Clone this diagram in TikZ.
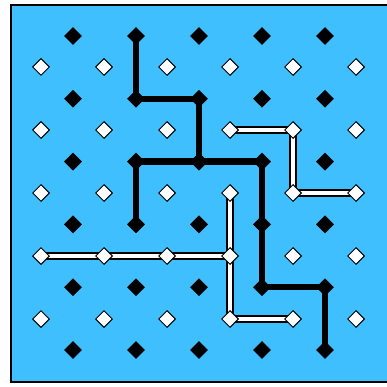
\documentclass[tikz,border=0pt]{standalone}
\usetikzlibrary{shapes.geometric}
\definecolor{sky}{RGB}{64,191,255}
\definecolor{ink}{RGB}{0,0,0}
\pgfdeclarelayer{board}
\pgfdeclarelayer{paths}
\pgfsetlayers{board,paths,main}
\tikzset{
  bdot/.style={diamond,fill=ink,inner sep=0pt,minimum size=18pt},
  wdot/.style={diamond,fill=white,draw=ink,line width=1pt,inner sep=0pt,minimum size=17pt},
  bpath/.style={draw=ink,line width=6.5pt,line join=miter},
  wpath/.style={draw=ink,line width=1.2pt,double=white,double distance=4.8pt},
}

\begin{document}
\begin{tikzpicture}[x=1pt,y=-1pt]
  \useasboundingbox (0,0) rectangle (386,387);
  \begin{pgfonlayer}{board}
    \fill[sky] (10,4) rectangle (390,382);
    \draw[ink,line width=2pt] (11,5) rectangle (390,382);
  \end{pgfonlayer}
  % black and white points
  \foreach \i in {1,...,5} \foreach \j in {1,...,6}
    \node[bdot] (b\i\j) at ({73+63*(\i-1)},{36+62.8*(\j-1)}) {};
  \foreach \i in {1,...,6} \foreach \j in {1,...,5}
    \node[wdot] (w\i\j) at ({41+63*(\i-1)},{67+63*(\j-1)}) {};
  \begin{pgfonlayer}{paths}
    % black walls
    \draw[bpath] (b21.center) -- (b22.center) -- (b32.center) -- (b33.center);
    \draw[bpath] (b24.center) -- (b23.center) -- (b43.center);
    \draw[bpath] (b43.center) -- (b44.center) -- (b45.center) -- (b55.center) -- (b56.center);
    % white walls
    \draw[wpath] (w42.center) -- (w52.center) -- (w53.center) -- (w63.center);
    \draw[wpath] (w14.center) -- (w44.center);
    \draw[wpath] (w43.center) -- (w45.center) -- (w55.center);
  \end{pgfonlayer}
\end{tikzpicture}
\end{document}
